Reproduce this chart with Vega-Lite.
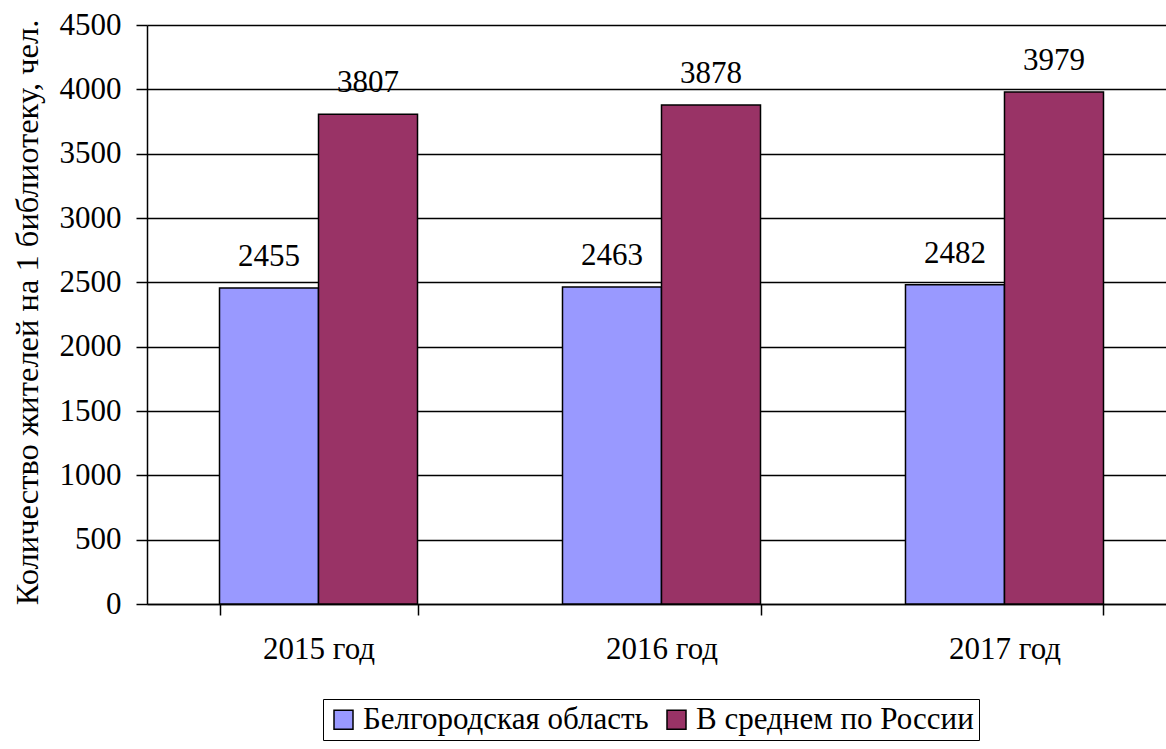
{
  "$schema": "https://vega.github.io/schema/vega-lite/v6.json",
  "width": 1019,
  "height": 579,
  "autosize": {"type": "none"},
  "padding": {"left": 147, "top": 25, "right": 0, "bottom": 145},
  "background": "white",
  "config": {
    "view": {"stroke": null},
    "font": "Liberation Serif",
    "text": {"font": "Liberation Serif"},
    "axis": {"labelFont": "Liberation Serif", "titleFont": "Liberation Serif"},
    "legend": {"labelFont": "Liberation Serif", "titleFont": "Liberation Serif"}
  },
  "data": {
    "values": [
      {"year": "2015 год", "series": "Белгородская область", "value": 2455},
      {"year": "2015 год", "series": "В среднем по России", "value": 3807},
      {"year": "2016 год", "series": "Белгородская область", "value": 2463},
      {"year": "2016 год", "series": "В среднем по России", "value": 3878},
      {"year": "2017 год", "series": "Белгородская область", "value": 2482},
      {"year": "2017 год", "series": "В среднем по России", "value": 3979}
    ]
  },
  "encoding": {
    "x": {
      "field": "year",
      "type": "nominal",
      "sort": null,
      "scale": {"range": [0, 1029], "paddingInner": 0.4227, "paddingOuter": 0.2114},
      "axis": {
        "title": null,
        "labelAngle": 0,
        "tickBand": "extent",
        "labelFontSize": 31,
        "labelColor": "black",
        "labelPadding": 19,
        "tickSize": 11,
        "tickColor": "black",
        "tickWidth": 1.5,
        "domainColor": "black",
        "domainWidth": 1.5,
        "grid": false
      }
    },
    "xOffset": {
      "field": "series",
      "type": "nominal",
      "sort": ["Белгородская область", "В среднем по России"],
      "scale": {"paddingInner": 0, "paddingOuter": 0}
    },
    "y": {
      "field": "value",
      "type": "quantitative",
      "scale": {"domain": [0, 4500], "nice": false},
      "axis": {
        "values": [0, 500, 1000, 1500, 2000, 2500, 3000, 3500, 4000, 4500],
        "format": "d",
        "title": "Количество жителей на 1 библиотеку, чел.",
        "titleFontSize": 32.5,
        "titleFontWeight": "normal",
        "titleColor": "black",
        "titleAngle": -90,
        "titleX": -110,
        "titleY": 287,
        "titleAlign": "center",
        "titleBaseline": "alphabetic",
        "labelFontSize": 31,
        "labelColor": "black",
        "labelPadding": 15,
        "tickSize": 11,
        "tickColor": "black",
        "tickWidth": 1.5,
        "domainColor": "black",
        "domainWidth": 1.5,
        "grid": true,
        "gridColor": "black",
        "gridWidth": 1.5,
        "gridOpacity": 1
      }
    }
  },
  "layer": [
    {
      "mark": {"type": "bar", "stroke": "black", "strokeWidth": 1.5},
      "encoding": {
        "color": {
          "field": "series",
          "type": "nominal",
          "sort": ["Белгородская область", "В среднем по России"],
          "scale": {"range": ["#9999FF", "#993366"]},
          "legend": {
            "orient": "none",
            "legendX": 176,
            "legendY": 674,
            "direction": "horizontal",
            "title": null,
            "strokeColor": "black",
            "padding": 5,
            "symbolType": "square",
            "symbolSize": 361,
            "symbolStrokeColor": "black",
            "symbolStrokeWidth": 1.5,
            "symbolOpacity": 1,
            "labelFontSize": 31,
            "labelColor": "black",
            "labelOffset": 4,
            "columnPadding": 12,
            "labelLimit": 0
          }
        }
      }
    },
    {
      "mark": {"type": "text", "fontSize": 31, "color": "black", "baseline": "alphabetic", "dy": -22},
      "encoding": {
        "text": {"field": "value", "type": "quantitative", "format": "d"}
      }
    }
  ]
}
